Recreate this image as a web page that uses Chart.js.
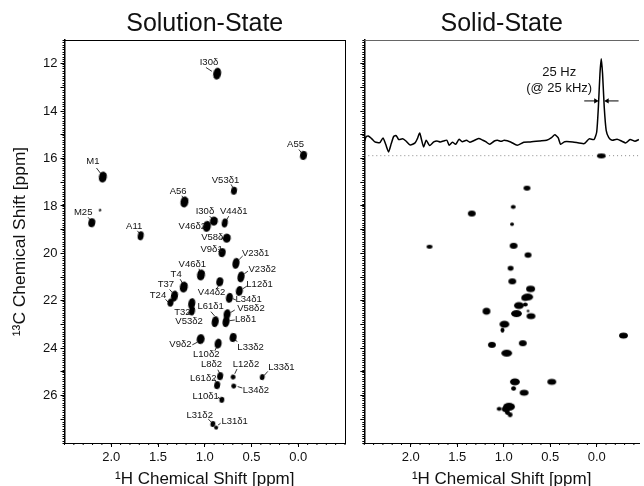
<!DOCTYPE html>
<html lang="en">
<head>
  <meta charset="UTF-8" />
  <title>Solution-State and Solid-State NMR</title>
  <script src="https://cdn.jsdelivr.net/npm/chart.js"></script>
  <style>
    body { margin: 0; background: #fff; }
    canvas { position: absolute; top: 0; }
    #solutionChart { left: 0; }
    #solidChart { left: 350px; }
  </style>
</head>
<body>
  <canvas id="solutionChart" width="350" height="486"></canvas>
  <canvas id="solidChart" width="294" height="486"></canvas>

  <script>
    // axis ticks
    const protonTicks = [2.0, 1.5, 1.0, 0.5, 0.0];
    const carbonTicks = [12, 13, 14, 15, 16, 17, 18, 19, 20, 21, 22, 23, 24, 25, 26, 27];

    // solution-state peaks: 1H shift, 13C shift, linewidths (all ppm)
    const solutionH = [0.867, -0.056, 2.09, 0.687, 1.217, 0.902, 0.786, 0.977, 0.764, 2.208, 2.12, 1.685, 0.814, 0.666, 0.612, 1.04, 0.839, 0.63, 1.224, 1.324, 1.366, 0.736, 1.139, 1.136, 0.888, 0.761, 0.772, 1.044, 0.697, 0.857, 0.835, 0.697, 0.385, 0.867, 0.69, 0.817, 0.913, 0.878];
    const solutionC = [12.42, 15.87, 16.78, 17.36, 17.83, 18.64, 18.72, 18.86, 19.36, 18.71, 18.18, 19.26, 19.97, 20.42, 20.99, 20.91, 21.2, 21.59, 21.42, 21.8, 22.08, 21.88, 22.12, 22.43, 22.88, 22.57, 22.88, 23.62, 23.55, 23.81, 25.18, 25.22, 25.22, 25.56, 25.6, 26.18, 27.2, 27.35];
    const solutionWidthH = [0.074, 0.064, 0.074, 0.053, 0.074, 0.074, 0.053, 0.074, 0.074, 0.064, 0.011, 0.053, 0.064, 0.064, 0.064, 0.074, 0.064, 0.064, 0.074, 0.064, 0.053, 0.064, 0.064, 0.053, 0.064, 0.064, 0.064, 0.074, 0.064, 0.064, 0.053, 0.042, 0.042, 0.053, 0.042, 0.042, 0.042, 0.032];
    const solutionWidthC = [0.463, 0.337, 0.421, 0.295, 0.421, 0.337, 0.337, 0.421, 0.337, 0.337, 0.084, 0.337, 0.337, 0.421, 0.421, 0.421, 0.337, 0.379, 0.421, 0.421, 0.295, 0.379, 0.421, 0.337, 0.421, 0.379, 0.421, 0.379, 0.337, 0.379, 0.295, 0.168, 0.21, 0.295, 0.168, 0.21, 0.21, 0.126];

    // peak assignments
    const peakNames = ['I30δ', 'A55', 'M1', 'V53δ1', 'A56', 'I30δ', 'V44δ1', 'V46δ2', 'M25', 'A11', 'V58δ', 'V9δ1', 'V23δ1', 'V23δ2', 'V46δ1', 'T4', 'L12δ1', 'T37', 'V44δ2', 'T24', 'L34δ1', 'L61δ1', 'V58δ2', 'T32', 'L8δ1', 'V53δ2', 'V9δ2', 'L33δ2', 'L10δ2', 'L8δ2', 'L12δ2', 'L33δ1', 'L61δ2', 'L34δ2', 'L10δ1', 'L31δ2', 'L31δ1'];
    const peakNameH = [0.955, 0.029, 2.197, 0.778, 1.285, 0.998, 0.69, 1.133, 2.3, 1.755, 0.92, 0.927, 0.456, 0.385, 1.133, 1.306, 0.414, 1.415, 0.927, 1.5, 0.531, 0.937, 0.506, 1.239, 0.563, 1.168, 1.26, 0.51, 0.984, 0.927, 0.559, 0.18, 1.016, 0.453, 0.99, 1.054, 0.68];
    const peakNameC = [11.93, 15.39, 16.13, 16.91, 17.38, 18.23, 18.23, 18.88, 18.26, 18.86, 19.33, 19.83, 20.02, 20.67, 20.48, 20.9, 21.32, 21.31, 21.66, 21.76, 21.94, 22.25, 22.32, 22.47, 22.78, 22.88, 23.83, 23.95, 24.25, 24.67, 24.67, 24.79, 25.29, 25.79, 26.04, 26.85, 27.08];

    // leader lines from assignment to peak
    const leaderH1 = [0.987, -0.007, 2.158, 0.719, 1.245, 0.948, 0.743, 2.247, 1.72, 0.831, 0.857, 0.594, 0.538, 1.062, 1.263, 1.377, 1.419, 0.549, 0.878, 0.666, 0.934, 0.679, 1.186, 0.679, 1.133, 0.651, 0.892, 0.86, 0.655, 0.326, 0.895, 0.598, 0.86, 0.963, 0.831];
    const leaderC1 = [12.16, 15.62, 16.4, 17.09, 17.57, 18.43, 18.43, 18.48, 19.05, 19.36, 19.83, 20.11, 20.75, 20.65, 21.09, 21.52, 21.94, 21.38, 21.52, 21.97, 22.46, 22.39, 22.6, 22.81, 23.86, 23.72, 24.11, 24.91, 24.88, 24.98, 25.31, 25.68, 26.06, 26.99, 27.17];
    const leaderH2 = [0.924, -0.035, 2.113, 0.697, 1.228, 0.92, 0.768, 2.222, 1.7, 0.789, 0.831, 0.63, 0.576, 1.051, 1.239, 1.345, 1.387, 0.591, 0.849, 0.701, 0.895, 0.725, 1.143, 0.732, 1.08, 0.679, 0.874, 0.842, 0.679, 0.364, 0.881, 0.648, 0.831, 0.927, 0.857];
    const leaderC2 = [12.32, 15.76, 16.63, 17.24, 17.67, 18.54, 18.6, 18.6, 19.15, 19.36, 19.9, 20.25, 20.86, 20.75, 21.25, 21.66, 22.08, 21.49, 21.35, 21.91, 22.64, 22.5, 22.4, 22.84, 23.75, 23.65, 23.96, 25.05, 25.08, 25.15, 25.42, 25.62, 26.15, 27.13, 27.24];

    // solid-state peaks
    const solidH = [-0.05, 0.75, 0.898, 1.344, 0.911, 1.798, 0.894, 0.739, 0.926, 0.908, 0.711, 0.742, 0.774, 0.837, 0.768, 0.739, 0.863, 0.707, 1.186, 0.993, 1.014, -0.288, 1.127, 0.795, 0.968, 0.88, 0.483, 0.894, 0.781, 0.943, 0.979, 1.049, 0.961, 0.932];
    const solidC = [15.89, 17.25, 18.04, 18.32, 18.77, 19.72, 19.68, 20.07, 20.63, 21.18, 21.5, 21.84, 21.88, 22.2, 22.16, 22.43, 22.54, 22.65, 22.44, 22.99, 23.24, 23.47, 23.86, 23.79, 24.21, 25.42, 25.42, 25.7, 25.88, 26.47, 26.57, 26.56, 26.71, 26.81];
    const solidWidthH = [0.085, 0.064, 0.042, 0.074, 0.032, 0.053, 0.074, 0.064, 0.053, 0.074, 0.085, 0.106, 0.064, 0.096, 0.042, 0.016, 0.106, 0.085, 0.074, 0.096, 0.032, 0.085, 0.074, 0.074, 0.106, 0.096, 0.085, 0.042, 0.085, 0.117, 0.074, 0.042, 0.042, 0.042];
    const solidWidthC = [0.168, 0.168, 0.126, 0.21, 0.105, 0.126, 0.21, 0.19, 0.168, 0.21, 0.232, 0.253, 0.21, 0.253, 0.126, 0.063, 0.253, 0.21, 0.253, 0.253, 0.168, 0.21, 0.21, 0.21, 0.253, 0.253, 0.21, 0.147, 0.21, 0.295, 0.21, 0.126, 0.168, 0.168];

    // 1D slice through the A55 peak, plotted on the 13C axis
    const sliceH = [2.5, 2.482, 2.457, 2.421, 2.386, 2.334, 2.299, 2.27, 2.239, 2.21, 2.183, 2.157, 2.13, 2.088, 2.052, 2.006, 1.954, 1.929, 1.904, 1.883, 1.862, 1.834, 1.798, 1.753, 1.718, 1.682, 1.647, 1.612, 1.587, 1.552, 1.517, 1.481, 1.447, 1.401, 1.365, 1.33, 1.27, 1.225, 1.19, 1.151, 1.101, 1.067, 1.038, 1.014, 0.996, 0.926, 0.855, 0.785, 0.715, 0.609, 0.539, 0.486, 0.451, 0.415, 0.388, 0.345, 0.257, 0.134, 0.081, 0.029, 0.0, -0.018, -0.035, -0.049, -0.063, -0.081, -0.102, -0.13, -0.166, -0.219, -0.271, -0.314, -0.359, -0.412, -0.454];
    const sliceC = [15.3, 15.09, 15.05, 15.16, 15.3, 15.33, 15.13, 15.4, 15.72, 15.37, 15.06, 15.03, 15.2, 15.17, 15.26, 15.43, 15.34, 15.16, 14.92, 15.23, 15.51, 15.23, 15.45, 15.3, 15.26, 15.3, 15.26, 15.23, 15.44, 15.31, 15.4, 15.19, 15.29, 15.23, 15.31, 15.26, 15.16, 15.23, 15.3, 15.4, 15.26, 15.23, 15.27, 15.26, 15.23, 15.3, 15.44, 15.31, 15.3, 15.26, 15.23, 15.12, 15.0, 15.12, 15.4, 15.29, 15.3, 15.37, 15.17, 15.2, 14.88, 13.83, 12.42, 11.79, 12.42, 13.83, 14.81, 15.12, 15.23, 15.19, 15.27, 15.34, 15.2, 15.27, 15.2];

    // linewidth note and its arrows
    const noteLines = ['25 Hz', '(@ 25 kHz)'];
    const noteH = [0.404, 0.404];
    const noteC = [12.38, 13.04];
    const arrowC = 13.57;
    const arrowLeftH = [0.134, 0.011];
    const arrowRightH = [-0.235, -0.113];

    const slicePlaneC = 15.88;
    const slicePlaneH = [2.5, 0.04, NaN, -0.09, -0.455];

    Chart.defaults.font.family = '"Liberation Sans", Arial, sans-serif';
    Chart.defaults.color = '#111';
    Chart.defaults.animation = false;

    // draw one peak as a filled oval, sized by its linewidths through the scales
    function ovalStyle(chart, widthH, widthC) {
      const { x, y } = chart.scales;
      const w = Math.abs(x.getPixelForValue(widthH) - x.getPixelForValue(0)) + 1;
      const h = Math.abs(y.getPixelForValue(widthC) - y.getPixelForValue(0)) + 1;
      const c = document.createElement('canvas');
      c.width = Math.ceil(Math.max(w, h)) + 2;
      c.height = c.width;
      const g = c.getContext('2d');
      g.fillStyle = '#000';
      g.beginPath();
      g.ellipse(c.width / 2, c.height / 2, w / 2, h / 2, 0, 0, Math.PI * 2);
      g.fill();
      return c;
    }

    function peakDataset(hs, cs, widthsH, widthsC, tilt) {
      return {
        data: hs.map((h, i) => ({ x: h, y: cs[i] })),
        showLine: false,
        pointRotation: tilt,
        pointStyle: ctx => ovalStyle(ctx.chart, widthsH[ctx.dataIndex], widthsC[ctx.dataIndex])
      };
    }

    // frame and 0.1 ppm minor ticks
    const framePlugin = {
      id: 'frame',
      afterDraw(chart, args, opts) {
        const { ctx, chartArea: a, scales: { x, y } } = chart;
        ctx.save();
        ctx.strokeStyle = '#000';
        ctx.lineWidth = 1;
        for (let i = 0; i <= 30; i++) {
          const v = i / 10 - 0.5;
          const px = x.getPixelForValue(v);
          if (px < a.left || px > a.right) continue;
          ctx.beginPath();
          ctx.moveTo(px, a.bottom);
          ctx.lineTo(px, a.bottom + 2);
          ctx.stroke();
        }
        for (let i = 0; i <= 170; i++) {
          const py = Math.round(y.getPixelForValue(11 + i / 10)) + 0.5;
          ctx.beginPath();
          ctx.moveTo(a.left, py);
          ctx.lineTo(a.left - 2, py);
          ctx.stroke();
        }
        ctx.strokeStyle = opts.topColor;
        ctx.beginPath();
        ctx.moveTo(a.left, a.top + 0.5);
        ctx.lineTo(a.right, a.top + 0.5);
        ctx.stroke();
        if (opts.rightSide) {
          ctx.strokeStyle = '#000';
          ctx.beginPath();
          ctx.moveTo(a.right + 0.5, a.top);
          ctx.lineTo(a.right + 0.5, a.bottom);
          ctx.stroke();
        }
        ctx.restore();
      }
    };

    // text placed at chemical shift coordinates
    const shiftTextPlugin = {
      id: 'shiftText',
      afterDatasetsDraw(chart, args, opts) {
        const { ctx, scales: { x, y } } = chart;
        ctx.save();
        ctx.font = opts.font;
        ctx.fillStyle = opts.color;
        ctx.textAlign = 'center';
        ctx.textBaseline = 'middle';
        opts.texts.forEach((t, i) => {
          ctx.fillText(t, x.getPixelForValue(opts.hs[i]), y.getPixelForValue(opts.cs[i]));
        });
        ctx.restore();
      }
    };

    function scalesFor(showCarbonLabels, axisWidth, protonMin) {
      return {
        x: {
          type: 'linear',
          reverse: true,
          min: protonMin,
          max: 2.5,
          afterBuildTicks: s => { s.ticks = protonTicks.map(v => ({ value: v })); },
          afterFit: s => { s.height = 43; },
          grid: { drawOnChartArea: false, tickLength: 4, tickColor: '#000' },
          border: { color: '#000', width: 1 },
          ticks: { font: { size: 13 }, padding: 3, maxRotation: 0, autoSkip: false, callback: v => v.toFixed(1) },
          title: { display: true, text: '¹H Chemical Shift [ppm]', font: { size: 17 }, padding: { top: 0, bottom: -4 } }
        },
        y: {
          type: 'linear',
          reverse: true,
          min: 11,
          max: 28,
          afterBuildTicks: s => { s.ticks = carbonTicks.map(v => ({ value: v })); },
          afterFit: s => { s.width = axisWidth; },
          grid: { drawOnChartArea: false, tickLength: 4, tickColor: '#000' },
          border: { color: '#000', width: 1.5 },
          ticks: { display: showCarbonLabels, font: { size: 13 }, padding: 3, autoSkip: false, callback: v => (v % 2 === 0 ? v : '') },
          title: { display: showCarbonLabels, text: '¹³C Chemical Shift [ppm]', font: { size: 17.4 }, padding: { top: 10, bottom: 0 } }
        }
      };
    }

    function titleFor(text) {
      return { display: true, fullSize: false, text: text, color: '#111', font: { size: 25, weight: 'normal' }, padding: { top: 9, bottom: 1 } };
    }

    const leaderPoints = [];
    leaderH1.forEach((h, i) => {
      leaderPoints.push({ x: h, y: leaderC1[i] }, { x: leaderH2[i], y: leaderC2[i] }, { x: NaN, y: NaN });
    });

    new Chart(document.getElementById('solutionChart'), {
      type: 'scatter',
      data: {
        datasets: [
          { data: leaderPoints, showLine: true, pointRadius: 0, borderColor: '#000', borderWidth: 0.8 },
          peakDataset(solutionH, solutionC, solutionWidthH, solutionWidthC, 10),
          // the M1 peak has an open centre
          { data: [{ x: 2.095, y: 16.7 }], pointRadius: 1, backgroundColor: '#fff', borderWidth: 0 }
        ]
      },
      plugins: [framePlugin, shiftTextPlugin],
      options: {
        responsive: false,
        layout: { padding: { right: 3 } },
        scales: scalesFor(true, 64.5, -0.5),
        plugins: {
          legend: { display: false },
          tooltip: { enabled: false },
          title: titleFor('Solution-State'),
          frame: { topColor: '#000', rightSide: true },
          shiftText: { texts: peakNames, hs: peakNameH, cs: peakNameC, font: '9.5px "Liberation Sans"', color: '#111' }
        }
      }
    });

    new Chart(document.getElementById('solidChart'), {
      type: 'scatter',
      data: {
        datasets: [
          {
            data: slicePlaneH.map(h => ({ x: h, y: slicePlaneC })),
            showLine: true, pointRadius: 0, borderColor: '#888', borderWidth: 1, borderDash: [1, 3]
          },
          {
            data: sliceH.map((h, i) => ({ x: h, y: sliceC[i] })),
            showLine: true, pointRadius: 0, borderColor: '#000', borderWidth: 1.5, tension: 0.2
          },
          {
            data: arrowLeftH.map(h => ({ x: h, y: arrowC })),
            showLine: true, borderColor: '#000', borderWidth: 1, backgroundColor: '#000',
            pointStyle: 'triangle', pointRadius: [0, 3], pointBorderWidth: 0, pointRotation: 90
          },
          {
            data: arrowRightH.map(h => ({ x: h, y: arrowC })),
            showLine: true, borderColor: '#000', borderWidth: 1, backgroundColor: '#000',
            pointStyle: 'triangle', pointRadius: [0, 3], pointBorderWidth: 0, pointRotation: -90
          },
          peakDataset(solidH, solidC, solidWidthH, solidWidthC, 0)
        ]
      },
      plugins: [framePlugin, shiftTextPlugin],
      options: {
        responsive: false,
        scales: scalesFor(false, 14.3, -0.455),
        plugins: {
          legend: { display: false },
          tooltip: { enabled: false },
          title: titleFor('Solid-State'),
          frame: { topColor: '#666', rightSide: false },
          shiftText: { texts: noteLines, hs: noteH, cs: noteC, font: '13px "Liberation Sans"', color: '#111' }
        }
      }
    });
  </script>
</body>
</html>
